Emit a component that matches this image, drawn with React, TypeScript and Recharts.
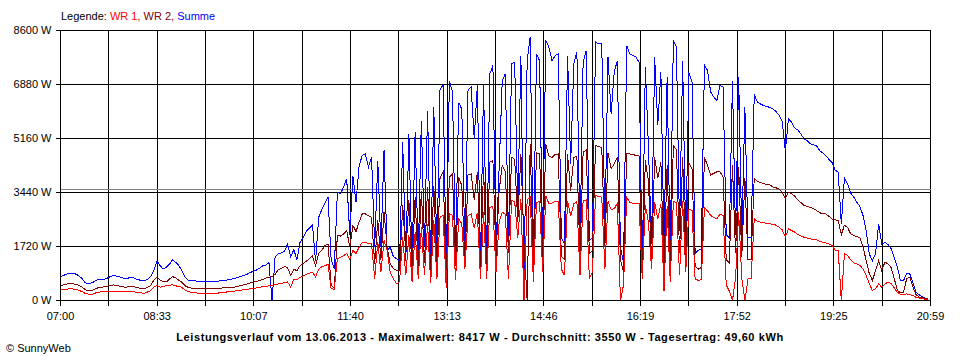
import React from "react";
import { LineChart, Line, XAxis, YAxis, CartesianGrid, ReferenceLine } from "recharts";

// minutes after 07:00, sampled every 3 minutes
const STEP_MIN = 3;
const SPAN_MIN = 839; // 07:00 .. 20:59

const X_LABELS = ["07:00", "08:33", "10:07", "11:40", "13:13", "14:46", "16:19", "17:52", "19:25", "20:59"];
const Y_TICKS = [0, 1720, 3440, 5160, 6880, 8600];
const AVERAGE_W = 3550;

const SUMME = [
  764, 800, 840, 870, 865, 840, 780, 690, 560, 530,
  560, 610, 660, 665, 675, 710, 760, 796, 780, 750,
  720, 690, 720, 743, 700, 658, 645, 637, 680, 764,
  950, 1253, 1115, 1000, 1060, 1150, 1295, 1220, 1120, 955,
  760, 650, 640, 625, 615, 608, 605, 605, 605, 605,
  610, 620, 635, 645, 660, 680, 700, 730, 770, 796,
  840, 890, 934, 970, 1030, 1100, 1130, 1210, 0, 1400,
  1480, 1520, 1560, 1800, 1400, 1620, 1300, 1850, 2000, 2200,
  2300, 2400, 1250, 2650, 2900, 3100, 3300, 1300, 1000, 3450,
  3400, 3610, 3880, 2100, 3960, 3130, 4300, 4620, 4670, 4250,
  4560, 1700, 4450, 1700, 4780, 1600, 1700, 1400, 1330, 1270,
  5040, 1270, 5300, 1170, 5360, 1380, 5730, 1700, 6050, 1170,
  6160, 1380, 6740, 6850, 960, 7000, 6640, 1500, 6300, 6100,
  1700, 6700, 6800, 5150, 6850, 1170, 6900, 1170, 7220, 7480,
  1700, 4200, 7000, 7220, 1800, 7540, 7590, 2900, 7800, 400,
  7640, 8400, 1170, 7850, 7640, 1700, 8280, 8070, 7640, 7800,
  7850, 2000, 1800, 7800, 4350, 7540, 7910, 1800, 7590, 7960,
  1900, 2000, 8230, 8175, 8175, 2200, 7750, 5950, 7270, 7640,
  1700, 1200, 8120, 7850, 7800, 7750, 7590, 900, 7430, 4900,
  1800, 7750, 5600, 7270, 1800, 7110, 1500, 8280, 8070, 2200,
  7640, 1800, 7270, 6950, 1500, 1600, 1650, 7500, 7330, 6640,
  6480, 6370, 6850, 6800, 2100, 2000, 7000, 2100, 7110, 2000,
  6160, 2000, 2000, 6580, 6320, 6260, 6210, 6180, 6150, 6100,
  6020, 5900, 5700, 4750, 5790, 5680, 5500, 5430, 5300, 5150,
  5090, 4990, 4960, 4930, 4780, 4700, 4610, 4500, 4400, 4150,
  4090, 2440, 3900, 3720, 3420, 3290, 3130, 2990, 2700, 2230,
  1480, 1270, 1480, 2440, 1800, 1850, 1780, 1650, 1380, 1060,
  640, 640, 850, 850, 560, 280, 180, 127, 70, 40,
];

const WR2 = [
  478, 500, 525, 541, 535, 515, 480, 420, 340, 318,
  318, 360, 403, 420, 435, 456, 480, 498, 480, 455,
  435, 425, 440, 456, 430, 400, 385, 382, 420, 478,
  650, 743, 658, 600, 590, 680, 764, 720, 650, 584,
  470, 420, 395, 385, 378, 372, 372, 372, 372, 372,
  372, 385, 400, 410, 415, 420, 430, 455, 480, 498,
  530, 560, 584, 610, 637, 670, 711, 740, 764, 830,
  980, 1020, 1080, 1050, 800, 1000, 950, 1110, 1180, 1250,
  1330, 1420, 1100, 1500, 1600, 1750, 1800, 500, 380, 2070,
  2050, 2120, 2230, 1700, 2390, 2200, 2500, 2760, 2760, 2700,
  2650, 1170, 2550, 1300, 2810, 1700, 1170, 1010, 960, 960,
  3030, 1500, 3190, 900, 3290, 1000, 3500, 1200, 3610, 900,
  3660, 1100, 3900, 4090, 700, 3930, 4030, 1100, 3930, 3660,
  1170, 4000, 4030, 3200, 4100, 1000, 4250, 1000, 4400, 4460,
  1400, 3500, 4300, 4100, 1500, 4560, 4500, 2500, 4670, 1800,
  0, 4990, 900, 4700, 4670, 1300, 4990, 4600, 4560, 4650,
  4670, 1400, 1300, 4650, 3500, 4560, 4600, 1400, 4720, 4800,
  1500, 1600, 4940, 4900, 4880, 1700, 4700, 4200, 4350, 4560,
  1300, 900, 4670, 4670, 4650, 4620, 4600, 700, 4460, 3800,
  1200, 4560, 3900, 4400, 1000, 4300, 900, 4940, 4800, 1500,
  4560, 1300, 4400, 4190, 1100, 1000, 1050, 4560, 4300, 4000,
  4050, 4100, 4100, 3930, 1300, 1200, 4300, 1500, 4250, 1400,
  3900, 1300, 1300, 3900, 3790, 3760, 3720, 3700, 3680, 3620,
  3590, 3550, 3450, 3250, 3450, 3400, 3330, 3200, 3120, 3030,
  3000, 2970, 2920, 2870, 2800, 2760, 2760, 2680, 2600, 2570,
  2550, 2100, 2400, 2330, 2120, 2070, 2040, 2000, 1700, 1270,
  850, 640, 950, 1270, 950, 1220, 1170, 1050, 700, 330,
  240, 260, 690, 740, 430, 190, 110, 85, 60, 35,
];

const WR1 = [
  340, 350, 362, 372, 368, 355, 320, 280, 225, 205,
  191, 230, 265, 275, 285, 297, 297, 297, 297, 297,
  297, 297, 290, 280, 270, 255, 240, 233, 270, 318,
  420, 478, 425, 440, 470, 490, 498, 470, 440, 425,
  330, 290, 260, 245, 238, 233, 233, 233, 233, 233,
  233, 240, 250, 265, 280, 295, 300, 315, 330, 345,
  360, 372, 380, 400, 420, 440, 446, 465, 478, 500,
  530, 545, 570, 590, 430, 680, 650, 740, 780, 840,
  870, 900, 750, 1000, 1070, 1110, 1150, 380, 360, 1330,
  1380, 1430, 1490, 1300, 1600, 1500, 1700, 1850, 1840, 1820,
  1800, 700, 1860, 900, 1910, 1590, 900, 700, 530, 600,
  2020, 800, 2070, 600, 2180, 700, 2340, 800, 2440, 550,
  2550, 700, 2650, 2710, 400, 2760, 2720, 650, 2600, 2440,
  1000, 2700, 2760, 2300, 2800, 690, 2810, 700, 2970, 2990,
  900, 2500, 2810, 2750, 690, 3180, 3150, 2000, 3240, 0,
  3200, 3290, 600, 3130, 3150, 900, 3340, 3080, 3100, 3150,
  3150, 1000, 800, 3180, 2700, 3080, 3150, 800, 3180, 3200,
  700, 900, 3340, 3320, 3290, 1000, 3150, 2900, 2920, 3100,
  0, 500, 3290, 3130, 3100, 3080, 3080, 700, 3030, 2500,
  1000, 3130, 2600, 3080, 300, 3000, 600, 3150, 3120, 800,
  3180, 900, 2900, 2870, 690, 640, 660, 2970, 2850, 2710,
  2650, 2600, 2760, 2700, 500, 300, 0, 700, 2810, 700,
  0, 690, 700, 2600, 2520, 2495, 2480, 2460, 2440, 2430,
  2400, 2336, 2250, 2020, 2280, 2230, 2180, 2100, 2060, 2017,
  1990, 1964, 1950, 1932, 1890, 1860, 1830, 1800, 1752, 1600,
  1580, 0, 1500, 1430, 1300, 1200, 1170, 1120, 1000, 800,
  530, 318, 372, 531, 425, 530, 584, 540, 400, 265,
  200, 180, 212, 190, 159, 100, 80, 55, 42, 30,
];

const data = SUMME.map((s, i) => ({
  t: i * STEP_MIN,
  summe: s,
  wr2: WR2[i],
  wr1: WR1[i],
}));

const X_TICKS = Array.from({ length: 19 }, (_, i) => (i * SPAN_MIN) / 18);

const FONT = "'Liberation Sans', Arial, sans-serif";

// snap grid lines onto whole pixels so they stay crisp black
const verticalGen = (props: any) => {
  const { offset } = props;
  return X_TICKS.map((t) => Math.round(offset.left + (offset.width * t) / SPAN_MIN - 0.5) + 0.5);
};

export default function App() {
  return (
    <div
      className="chartwrap"
      style={{
        position: "absolute",
        left: 0,
        top: 0,
        width: 960,
        height: 360,
        background: "#fff",
        fontFamily: FONT,
        fontSize: 11,
        color: "#000",
        overflow: "hidden",
      }}
    >
      <style>{`.chartwrap svg line, .chartwrap svg path { shape-rendering: crispEdges; }`}</style>
      <LineChart
        width={960}
        height={360}
        data={data}
        margin={{ top: 30.5, right: 29.5, bottom: 29.5, left: 0.5 }}
      >
        <CartesianGrid stroke="#000" strokeWidth={1} verticalCoordinatesGenerator={verticalGen} />
        <XAxis
          dataKey="t"
          type="number"
          domain={[0, SPAN_MIN]}
          ticks={X_TICKS}
          interval={0}
          height={30}
          axisLine={{ stroke: "#000" }}
          tickLine={{ stroke: "#000" }}
          tickSize={5}
          tickMargin={7}
          tick={{ fill: "#000", fontSize: 11, fontFamily: FONT }}
          tickFormatter={(_v: number, i: number) => (i % 2 === 0 ? X_LABELS[i / 2] : "")}
        />
        <YAxis
          type="number"
          domain={[0, 8600]}
          ticks={Y_TICKS}
          interval={0}
          width={60}
          axisLine={{ stroke: "#000" }}
          tickLine={{ stroke: "#000" }}
          tickSize={5}
          tickMargin={4}
          tick={{ fill: "#000", fontSize: 11, fontFamily: FONT }}
          tickFormatter={(v: number) => `${v} W`}
          allowDataOverflow
        />
        <ReferenceLine y={AVERAGE_W} stroke="#808080" strokeWidth={1} ifOverflow="visible" />
        <Line
          dataKey="summe"
          type="linear"
          stroke="#0000FF"
          strokeWidth={1}
          dot={false}
          isAnimationActive={false}
        />
        <Line
          dataKey="wr2"
          type="linear"
          stroke="#800000"
          strokeWidth={1}
          dot={false}
          isAnimationActive={false}
        />
        <Line
          dataKey="wr1"
          type="linear"
          stroke="#FF0000"
          strokeWidth={1}
          dot={false}
          isAnimationActive={false}
        />
      </LineChart>
      <div style={{ position: "absolute", left: 61, top: 10, lineHeight: "13px", whiteSpace: "nowrap" }}>
        <span>Legende: </span>
        <span style={{ color: "#FF0000" }}>WR 1,</span>
        <span style={{ color: "#800000" }}> WR 2,</span>
        <span style={{ color: "#0000FF" }}> Summe</span>
      </div>
      <div
        style={{
          position: "absolute",
          left: 0,
          top: 330,
          width: 960,
          textAlign: "center",
          fontWeight: "bold",
          letterSpacing: "0.6px",
          lineHeight: "14px",
          whiteSpace: "nowrap",
        }}
      >
        Leistungsverlauf vom 13.06.2013 - Maximalwert: 8417 W - Durchschnitt: 3550 W - Tagesertrag: 49,60 kWh
      </div>
      <div style={{ position: "absolute", left: 6, top: 342, lineHeight: "13px", whiteSpace: "nowrap" }}>
        © SunnyWeb
      </div>
    </div>
  );
}
